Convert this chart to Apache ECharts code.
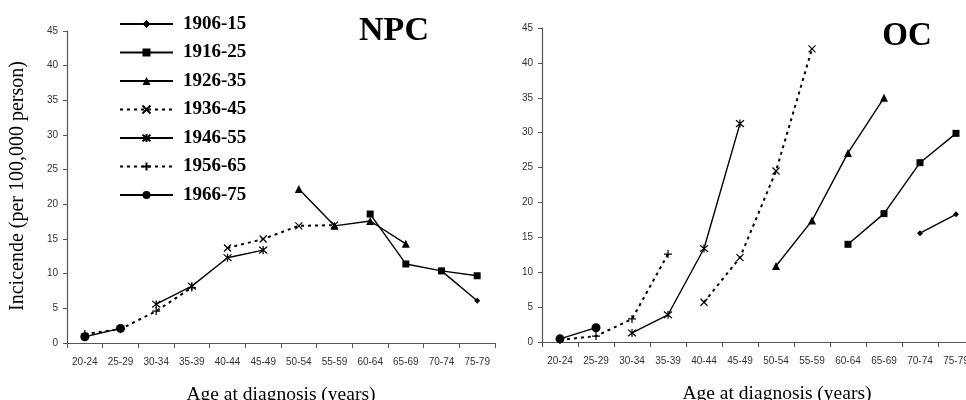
<!DOCTYPE html>
<html>
<head>
<meta charset="utf-8">
<script src="https://cdn.jsdelivr.net/npm/echarts@6/dist/echarts.min.js"></script>
<style>
html, body { margin: 0; padding: 0; background: #fff; }
#chart { width: 966px; height: 400px; }
</style>
</head>
<body>
<div id="chart"></div>
<script>
var ageGroups = ['20-24', '25-29', '30-34', '35-39', '40-44', '45-49', '50-54', '55-59', '60-64', '65-69', '70-74', '75-79'];
var cohorts = ['1906-15', '1916-25', '1926-35', '1936-45', '1946-55', '1956-65', '1966-75'];

// NPC incidence by birth cohort (null = no data for that age group)
var npc1906 = [null, null, null, null, null, null, null, null, null, null, 10.4, 6.1];
var npc1916 = [null, null, null, null, null, null, null, null, 18.6, 11.4, 10.4, 9.7];
var npc1926 = [null, null, null, null, null, null, 22.2, 16.9, 17.6, 14.3, null, null];
var npc1936 = [null, null, null, null, 13.7, 15.0, 16.9, 17.0, null, null, null, null];
var npc1946 = [null, null, 5.6, 8.2, 12.3, 13.4, null, null, null, null, null, null];
var npc1956 = [1.3, 2.0, 4.6, 8.0, null, null, null, null, null, null, null, null];
var npc1966 = [0.9, 2.1, null, null, null, null, null, null, null, null, null, null];

// OC incidence by birth cohort
var oc1906 = [null, null, null, null, null, null, null, null, null, null, 15.6, 18.3];
var oc1916 = [null, null, null, null, null, null, null, null, 14.0, 18.4, 25.7, 29.9];
var oc1926 = [null, null, null, null, null, null, 10.9, 17.4, 27.1, 35.0, null, null];
var oc1936 = [null, null, null, null, 5.7, 12.1, 24.5, 42.0, null, null, null, null];
var oc1946 = [null, null, 1.3, 3.9, 13.4, 31.3, null, null, null, null, null, null];
var oc1956 = [0.3, 0.85, 3.3, 12.6, null, null, null, null, null, null, null, null];
var oc1966 = [0.45, 2.05, null, null, null, null, null, null, null, null, null, null];

var yMin = 0, yMax = 45, yStep = 5;

var npcData = [npc1906, npc1916, npc1926, npc1936, npc1946, npc1956, npc1966];
var ocData = [oc1906, oc1916, oc1926, oc1936, oc1946, oc1956, oc1966];

// marker look per cohort
var SYM_X = 'path://M0,0L10,10M10,0L0,10';
var SYM_AST = 'path://M0,0L10,10M10,0L0,10M5,-1L5,11';
var SYM_PLUS = 'path://M5,0L5,10M0,5L10,5';
var symbols = ['diamond', 'rect', 'triangle', SYM_X, SYM_AST, SYM_PLUS, 'circle'];
var symbolSizes = [6, 7, 8, 7, 8, 8, 9];
var dashed = [false, false, false, true, false, true, false];

var SERIF = '"Liberation Serif", "Times New Roman", serif';
var SANS = '"Liberation Sans", Arial, sans-serif';
var AXIS_COLOR = '#555';

function makeSeries(values, i, gridIdx) {
    var isPath = symbols[i].indexOf('path://') === 0;
    return {
        name: cohorts[i],
        type: 'line',
        xAxisIndex: gridIdx,
        yAxisIndex: gridIdx,
        data: values,
        symbol: symbols[i],
        symbolSize: symbolSizes[i],
        showAllSymbol: true,
        animation: false,
        lineStyle: {
            color: '#000',
            width: dashed[i] ? 2 : 1.4,
            type: dashed[i] ? [3, 4] : 'solid'
        },
        itemStyle: {
            color: '#000',
            borderColor: '#000',
            borderWidth: isPath ? 1.2 : 0
        },
        emphasis: { disabled: true }
    };
}

function makeXAxis(gridIdx, namePad) {
    return {
        type: 'category',
        gridIndex: gridIdx,
        data: ageGroups,
        boundaryGap: true,
        name: 'Age at diagnosis (years)',
        nameLocation: 'middle',
        nameGap: 42,
        nameTextStyle: {
            fontFamily: SERIF,
            fontSize: 19.5,
            color: '#000',
            padding: namePad
        },
        axisLine: { lineStyle: { color: AXIS_COLOR, width: 1.2 } },
        axisTick: { show: true, length: 5, inside: false, lineStyle: { color: AXIS_COLOR } },
        axisLabel: {
            interval: 0,
            margin: 14,
            fontFamily: SANS,
            fontSize: 10,
            color: '#333'
        },
        splitLine: { show: false }
    };
}

function makeYAxis(gridIdx) {
    return {
        type: 'value',
        gridIndex: gridIdx,
        min: yMin,
        max: yMax,
        interval: yStep,
        axisLine: { show: true, lineStyle: { color: AXIS_COLOR, width: 1.2 } },
        axisTick: { show: true, length: 4, inside: false, lineStyle: { color: AXIS_COLOR } },
        axisLabel: {
            margin: 9,
            fontFamily: SANS,
            fontSize: 10,
            color: '#333'
        },
        splitLine: { show: false }
    };
}

var series = [];
npcData.forEach(function (d, i) { series.push(makeSeries(d, i, 0)); });
ocData.forEach(function (d, i) { series.push(makeSeries(d, i, 1)); });

var option = {
    backgroundColor: '#fff',
    animation: false,
    grid: [
        { left: 67, top: 31, width: 428, height: 312, outerBoundsMode: 'none' },
        { left: 542, top: 28, width: 432, height: 314, outerBoundsMode: 'none' }
    ],
    xAxis: [makeXAxis(0, [0, 0, 0, 0]), makeXAxis(1, [0, 0, 0, 38])],
    yAxis: [makeYAxis(0), makeYAxis(1)],
    legend: {
        data: cohorts,
        orient: 'vertical',
        left: 114,
        top: 9,
        itemWidth: 53,
        itemHeight: 10,
        itemGap: 8.5,
        selectedMode: false,
        textStyle: {
            fontFamily: SERIF,
            fontWeight: 'bold',
            fontSize: 19,
            lineHeight: 20,
            color: '#000',
            padding: [0, 0, 0, 5]
        }
    },
    graphic: [
        {
            type: 'text',
            x: 18, y: 186,
            rotation: Math.PI / 2,
            style: {
                text: 'Incicende (per 100,000 person)',
                font: '20px ' + SERIF,
                fill: '#000',
                textAlign: 'center',
                textVerticalAlign: 'middle'
            }
        },
        {
            type: 'text',
            x: 394, y: 31,
            style: {
                text: 'NPC',
                font: 'bold 34px ' + SERIF,
                fill: '#000',
                textAlign: 'center',
                textVerticalAlign: 'middle'
            }
        },
        {
            type: 'text',
            x: 907, y: 36,
            style: {
                text: 'OC',
                font: 'bold 33px ' + SERIF,
                fill: '#000',
                textAlign: 'center',
                textVerticalAlign: 'middle'
            }
        }
    ],
    series: series
};

var myChart = echarts.init(document.getElementById('chart'));
myChart.setOption(option);
</script>
</body>
</html>
